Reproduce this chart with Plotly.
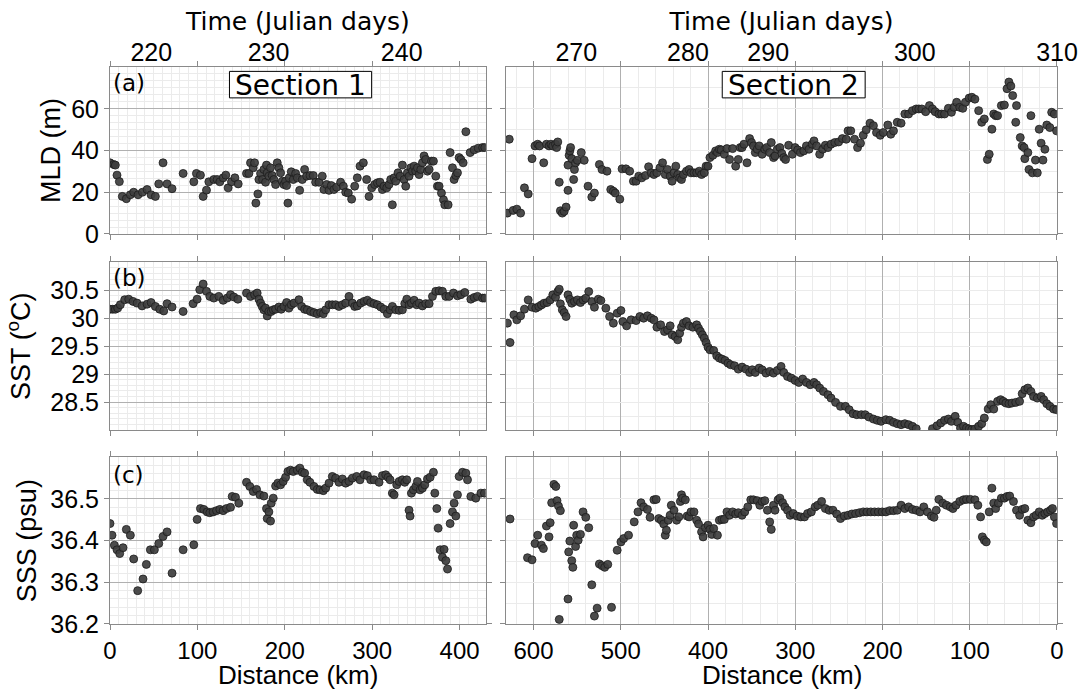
import plotly.graph_objects as go

# ---------------- Section 1 (left column), distance in km ----------------
s1_mld_dist = [0, 4.2, 6.1, 8.0, 10.7, 14.1, 18.7, 23.3, 27.1, 32.1,
               37.1, 42.4, 47.0, 51.9, 55.8, 60.7, 65.3, 71.0, 83.7, 95.9,
               98.9, 103.5, 106.6, 110.4, 113.1, 118.8, 122.6, 125.7, 129.5, 132.5,
               135.2, 139.0, 142.9, 146.7, 156.2, 158.9, 160.8, 163.9, 165.4, 166.9,
               169.2, 170.4, 172.3, 174.6, 176.1, 178.0, 179.1, 179.9, 181.8, 183.7,
               185.6, 187.5, 189.5, 191.4, 193.3, 195.2, 197.1, 199.0, 200.9, 202.1,
               203.6, 205.1, 207.4, 209.7, 212.4, 214.3, 217.0, 220.0, 222.7, 225.0,
               228.8, 232.6, 235.3, 239.1, 242.9, 244.8, 247.9, 250.6, 253.2, 256.3,
               259.4, 263.9, 267.0, 269.7, 272.7, 276.5, 280.0, 283.0, 286.1, 289.9,
               293.7, 296.4, 299.5, 302.9, 306.0, 309.0, 311.7, 313.6, 316.7, 319.3,
               321.2, 323.1, 325.1, 327.0, 329.6, 331.9, 334.6, 336.5, 338.4, 340.3,
               342.2, 344.2, 346.1, 348.0, 349.9, 351.8, 353.7, 355.6, 357.5, 359.4,
               361.3, 363.3, 365.2, 367.8, 370.1, 372.8, 374.7, 376.6, 379.3, 381.6,
               383.1, 386.9, 389.2, 391.9, 393.8, 395.7, 397.6, 399.5, 401.5, 404.1,
               407.2, 412.1, 416.7, 421.3, 426.3, 428.9]
s1_mld = [34.1, 33.3, 33.0, 28.2, 25.1, 18.0, 16.9, 18.8, 20.0, 18.8,
          20.0, 21.3, 18.8, 18.0, 24.0, 34.1, 24.0, 21.7, 29.0, 25.0,
          29.0, 28.2, 18.0, 21.0, 25.0, 26.1, 26.1, 25.0, 26.9, 28.2,
          22.1, 25.0, 26.9, 24.0, 29.0, 29.0, 34.1, 31.7, 34.1, 14.8,
          19.2, 26.1, 29.0, 26.1, 30.9, 24.8, 33.0, 29.3, 27.7, 31.7,
          28.0, 26.1, 23.7, 34.1, 31.7, 29.3, 25.3, 23.7, 25.3, 23.2,
          14.8, 26.9, 29.8, 26.1, 29.0, 26.9, 20.9, 26.1, 30.9, 27.7,
          28.0, 28.0, 24.8, 24.8, 27.7, 21.3, 23.7, 20.9, 23.2, 21.3,
          22.4, 24.8, 22.9, 20.0, 19.6, 16.7, 22.9, 26.9, 32.5, 34.1,
          26.1, 18.0, 22.1, 23.7, 24.5, 24.8, 21.3, 22.9, 22.1, 23.7,
          26.1, 14.0, 26.9, 25.3, 29.3, 27.7, 33.0, 26.1, 22.9, 29.3,
          27.7, 31.7, 30.1, 32.5, 30.1, 31.7, 28.5, 30.9, 34.1, 37.4,
          35.7, 30.1, 30.9, 34.9, 34.9, 27.7, 22.9, 22.9, 19.6, 16.4,
          14.0, 14.0, 39.0, 31.7, 26.1, 28.0, 29.3, 36.6, 35.7, 34.1,
          49.0, 39.0, 40.3, 41.1, 41.4, 41.4]

s1_sst_dist = [0, 3.1, 6.1, 8.8, 11.8, 16.8, 21.4, 26.4, 30.9, 36.7,
               42.4, 47.0, 51.9, 56.9, 61.5, 65.3, 71.0, 83.7, 95.1, 99.7,
               102.7, 106.6, 110.4, 114.2, 118.8, 124.5, 129.5, 134.1, 137.9, 141.7,
               146.3, 156.2, 160.8, 165.4, 168.4, 170.4, 172.3, 174.2, 176.1, 178.0,
               179.9, 181.8, 184.5, 186.8, 189.5, 193.3, 195.9, 199.0, 202.1, 204.7,
               207.4, 210.5, 216.2, 219.3, 222.7, 225.7, 229.6, 233.4, 237.2, 241.0,
               244.1, 246.8, 250.6, 254.4, 258.2, 262.0, 265.9, 269.7, 273.5, 277.3,
               280.0, 283.0, 286.9, 290.7, 294.5, 298.3, 302.1, 306.0, 309.8, 313.6,
               317.4, 320.5, 323.1, 327.0, 330.8, 334.6, 337.3, 339.6, 342.2, 344.9,
               348.0, 351.0, 353.7, 357.5, 361.3, 365.2, 369.0, 372.8, 376.6, 380.4,
               384.3, 388.1, 393.0, 397.6, 401.5, 406.0, 412.9, 416.7, 420.5, 426.3,
               428.9]
s1_sst = [30.16, 30.16, 30.16, 30.18, 30.24, 30.33, 30.34, 30.30, 30.27, 30.22,
          30.25, 30.28, 30.21, 30.16, 30.13, 30.26, 30.20, 30.12, 30.26, 30.34,
          30.51, 30.61, 30.48, 30.39, 30.36, 30.39, 30.32, 30.36, 30.42, 30.38,
          30.34, 30.45, 30.39, 30.42, 30.45, 30.34, 30.27, 30.21, 30.15, 30.18,
          30.04, 30.12, 30.12, 30.15, 30.16, 30.20, 30.16, 30.21, 30.28, 30.18,
          30.24, 30.27, 30.33, 30.21, 30.16, 30.15, 30.12, 30.10, 30.08, 30.10,
          30.08, 30.15, 30.24, 30.24, 30.24, 30.21, 30.24, 30.27, 30.39, 30.27,
          30.21, 30.22, 30.27, 30.30, 30.32, 30.28, 30.26, 30.24, 30.20, 30.16,
          30.08, 30.15, 30.21, 30.15, 30.14, 30.15, 30.26, 30.34, 30.24, 30.27,
          30.32, 30.24, 30.27, 30.22, 30.26, 30.26, 30.39, 30.48, 30.49, 30.48,
          30.39, 30.39, 30.45, 30.40, 30.42, 30.46, 30.34, 30.37, 30.39, 30.36,
          30.36]

s1_sss_dist = [0, 2.3, 5.0, 8.0, 11.1, 14.9, 18.7, 23.3, 27.1, 31.7,
               37.8, 41.6, 46.2, 50.8, 55.8, 60.7, 65.3, 71.0, 83.7, 95.9,
               99.7, 103.5, 107.3, 111.2, 114.2, 118.0, 121.9, 125.7, 129.5, 133.3,
               137.9, 139.8, 143.6, 147.4, 156.2, 160.0, 163.9, 167.7, 171.5, 176.1,
               179.1, 179.9, 181.8, 183.7, 184.5, 186.8, 189.5, 192.1, 195.2, 198.2,
               200.9, 203.6, 206.6, 209.7, 214.3, 217.3, 220.0, 222.7, 225.7, 228.8,
               233.4, 237.2, 240.3, 244.1, 246.8, 250.6, 254.4, 258.2, 262.0, 265.9,
               269.7, 273.5, 277.3, 282.3, 286.1, 290.7, 294.5, 298.3, 302.1, 307.9,
               311.7, 315.5, 318.2, 320.5, 323.1, 325.1, 328.1, 330.8, 334.6, 337.3,
               339.6, 342.2, 343.4, 344.9, 347.2, 349.9, 351.8, 354.8, 357.5, 360.2,
               363.3, 366.3, 370.1, 371.7, 374.0, 375.5, 377.8, 380.4, 382.3, 384.3,
               386.2, 389.2, 391.9, 393.8, 395.7, 397.6, 399.5, 403.4, 407.2, 409.1,
               412.9, 418.6, 424.4, 428.5]
s1_sss = [36.441, 36.413, 36.389, 36.378, 36.369, 36.383, 36.427, 36.413, 36.356, 36.280,
          36.308, 36.343, 36.378, 36.378, 36.393, 36.410, 36.421, 36.322, 36.378, 36.390,
          36.451, 36.477, 36.475, 36.469, 36.467, 36.469, 36.472, 36.475, 36.472, 36.477,
          36.480, 36.506, 36.504, 36.490, 36.540, 36.530, 36.518, 36.523, 36.510, 36.507,
          36.477, 36.453, 36.469, 36.447, 36.490, 36.502, 36.531, 36.538, 36.534, 36.542,
          36.552, 36.566, 36.569, 36.566, 36.569, 36.574, 36.564, 36.562, 36.546, 36.540,
          36.530, 36.523, 36.522, 36.520, 36.526, 36.538, 36.554, 36.550, 36.540, 36.548,
          36.538, 36.542, 36.550, 36.554, 36.546, 36.558, 36.556, 36.546, 36.546, 36.540,
          36.556, 36.558, 36.552, 36.546, 36.514, 36.510, 36.534, 36.542, 36.546, 36.540,
          36.546, 36.473, 36.459, 36.514, 36.522, 36.530, 36.542, 36.522, 36.526, 36.534,
          36.548, 36.552, 36.564, 36.514, 36.477, 36.430, 36.378, 36.360, 36.379, 36.352,
          36.332, 36.441, 36.469, 36.490, 36.459, 36.510, 36.554, 36.564, 36.562, 36.546,
          36.506, 36.502, 36.514, 36.514]

# ---------------- Section 2 (right column), distance in km ----------------
s2_mld_dist = [627.8, 629.9, 623.4, 619.1, 614.8, 610.4, 606.1, 601.7, 598.3, 595.2,
               593.1, 588.3, 585.2, 582.2, 580.0, 577.9, 574.8, 573.5, 572.2, 570.5,
               569.2, 567.0, 564.9, 562.7, 560.5, 560.5, 559.2, 558.4, 557.5, 556.2,
               554.0, 553.1, 551.8, 549.7, 545.3, 541.9, 537.5, 533.2, 530.2, 524.5,
               521.5, 515.8, 511.5, 508.5, 506.3, 501.1, 498.5, 494.1, 489.8, 485.5,
               482.4, 479.4, 475.9, 471.6, 468.1, 465.1, 462.0, 458.6, 455.1, 452.1,
               449.0, 446.4, 443.4, 441.2, 439.0, 436.9, 434.7, 432.5, 430.4, 428.2,
               424.7, 421.7, 419.5, 416.1, 413.0, 410.0, 407.4, 404.3, 402.2, 400.0,
               397.8, 394.4, 391.3, 389.2, 387.0, 384.8, 381.3, 378.3, 375.3, 371.8,
               368.3, 365.3, 363.1, 361.0, 358.8, 355.3, 352.3, 350.1, 347.9, 345.8,
               343.6, 341.4, 338.0, 334.9, 332.8, 329.3, 327.5, 324.9, 323.2, 320.6,
               317.6, 315.4, 313.2, 311.1, 307.6, 303.3, 300.2, 297.2, 294.1, 290.2,
               287.2, 284.2, 280.7, 278.5, 275.5, 272.0, 268.5, 265.5, 262.5, 259.0,
               254.7, 250.3, 246.0, 241.6, 239.5, 236.4, 232.1, 228.6, 225.2, 222.1,
               218.7, 214.3, 210.4, 206.9, 202.6, 199.1, 193.9, 190.5, 187.4, 183.1,
               178.7, 174.4, 170.1, 165.7, 161.4, 158.4, 154.9, 150.5, 146.2, 142.7,
               139.7, 135.4, 132.3, 128.9, 124.5, 121.0, 118.0, 115.0, 111.5, 108.0,
               105.0, 100.7, 97.6, 94.1, 89.8, 86.3, 83.3, 79.8, 77.7, 74.6,
               72.5, 70.3, 68.1, 63.8, 60.3, 57.3, 55.1, 52.9, 50.8, 47.3,
               46.4, 42.1, 39.9, 37.7, 36.9, 33.4, 32.1, 29.9, 28.2, 24.7,
               22.6, 20.4, 18.2, 16.1, 13.9, 11.7, 8.2, 6.1, 3.0, 0.5]
s2_mld = [45.4, 10.0, 11.3, 11.9, 10.0, 22.1, 19.2, 36.1, 42.2, 43.0,
          42.2, 34.1, 43.0, 42.2, 43.0, 42.2, 43.0, 41.4, 44.1, 24.8,
          11.1, 10.0, 10.8, 12.9, 20.9, 33.0, 37.7, 39.8, 41.4, 36.1,
          26.1, 30.9, 34.1, 35.3, 39.0, 35.3, 22.9, 17.7, 19.6, 33.3,
          30.9, 30.1, 21.3, 20.5, 19.6, 16.7, 31.2, 31.2, 30.1, 25.3,
          25.3, 27.7, 26.9, 28.0, 32.2, 29.3, 28.5, 29.3, 31.7, 34.1,
          28.5, 30.9, 27.7, 25.3, 29.3, 32.5, 28.5, 26.9, 26.1, 28.5,
          30.1, 30.9, 29.3, 29.3, 29.3, 30.1, 28.5, 29.3, 32.5, 32.5,
          36.6, 37.7, 39.8, 39.0, 40.6, 40.3, 38.2, 40.9, 35.7, 40.9,
          32.5, 35.7, 41.4, 41.4, 43.0, 34.1, 45.7, 43.8, 42.2, 39.0,
          40.6, 42.2, 38.2, 40.6, 41.4, 39.0, 43.8, 36.6, 37.4, 40.6,
          41.4, 38.6, 36.6, 35.7, 42.5, 38.2, 41.4, 40.3, 39.0, 39.8,
          42.2, 40.6, 43.0, 44.6, 42.2, 38.2, 40.6, 42.5, 41.4, 43.0,
          43.8, 44.1, 45.7, 45.4, 49.4, 49.4, 45.4, 41.4, 43.5, 47.3,
          49.9, 53.1, 51.9, 48.6, 47.3, 48.6, 52.2, 47.8, 49.4, 53.5,
          53.1, 57.5, 57.5, 59.1, 59.9, 59.9, 59.9, 58.6, 61.5, 59.9,
          58.6, 57.5, 57.5, 57.5, 60.2, 58.3, 60.7, 63.1, 60.7, 60.2,
          63.1, 65.1, 65.5, 64.6, 59.1, 53.5, 55.1, 35.7, 38.2, 50.2,
          57.5, 56.7, 56.7, 61.5, 61.8, 69.6, 72.8, 70.9, 66.3, 53.5,
          61.5, 46.2, 42.2, 41.4, 36.1, 39.0, 30.9, 56.7, 29.3, 35.4,
          29.3, 50.2, 43.5, 35.4, 40.6, 52.2, 51.0, 58.3, 57.5, 49.4]

s2_sst_dist = [629.9, 626.9, 622.5, 619.1, 614.8, 610.4, 606.1, 601.7, 597.4, 593.9,
               590.9, 587.9, 584.4, 580.9, 577.9, 574.8, 572.2, 570.5, 569.2, 567.0,
               564.9, 562.7, 560.5, 558.4, 556.2, 553.1, 549.7, 546.2, 543.2, 540.1,
               536.7, 533.2, 530.2, 525.8, 522.8, 517.1, 512.8, 508.5, 504.1, 499.8,
               497.6, 493.3, 488.1, 482.4, 478.1, 473.8, 469.4, 465.1, 462.0, 458.6,
               454.3, 449.9, 446.4, 443.4, 441.2, 437.7, 434.7, 432.5, 430.4, 428.2,
               424.7, 421.7, 417.4, 413.0, 410.9, 408.7, 406.5, 404.3, 402.2, 400.0,
               397.8, 393.5, 390.0, 387.0, 384.0, 380.5, 377.0, 374.0, 369.6, 365.3,
               361.0, 356.6, 352.3, 349.3, 345.8, 341.4, 338.0, 333.6, 329.3, 325.0,
               320.6, 316.3, 313.2, 308.9, 304.6, 300.2, 295.9, 291.5, 287.2, 282.9,
               278.5, 275.5, 272.0, 267.7, 262.5, 259.0, 253.8, 248.2, 242.5, 238.2,
               233.8, 229.5, 224.3, 219.9, 215.6, 210.4, 206.1, 201.7, 196.1, 191.8,
               187.4, 183.1, 178.7, 174.4, 170.1, 165.7, 161.4, 142.7, 137.5, 133.2,
               128.9, 124.5, 121.0, 116.7, 113.7, 110.6, 107.2, 103.7, 100.7, 97.6,
               94.1, 89.8, 86.3, 83.3, 78.9, 75.9, 72.5, 68.1, 64.6, 61.6,
               58.6, 55.1, 51.6, 47.3, 42.9, 39.9, 36.9, 33.4, 29.9, 26.9,
               22.6, 18.2, 15.2, 11.7, 8.2, 3.9, 0.5]
s2_sst = [29.911, 29.565, 30.060, 29.970, 30.042, 30.161, 30.327, 30.196, 30.179, 30.208,
          30.238, 30.268, 30.280, 30.327, 30.417, 30.375, 30.476, 30.518, 30.256, 30.149,
          30.101, 30.030, 30.417, 30.339, 30.268, 30.298, 30.327, 30.280, 30.327, 30.357,
          30.476, 30.298, 30.196, 30.339, 30.315, 30.179, 30.030, 29.911, 30.089, 30.137,
          29.940, 29.863, 29.970, 29.958, 30.030, 30.000, 30.042, 30.000, 29.970, 29.839,
          29.881, 29.762, 29.792, 29.863, 29.702, 29.673, 29.613, 29.732, 29.839, 29.911,
          29.940, 29.863, 29.839, 29.881, 29.821, 29.762, 29.702, 29.643, 29.565, 29.482,
          29.435, 29.423, 29.327, 29.286, 29.268, 29.244, 29.196, 29.167, 29.149, 29.089,
          29.125, 29.089, 29.030, 29.077, 29.030, 29.107, 29.077, 29.018, 29.048, 29.018,
          29.065, 29.137, 29.030, 28.958, 28.929, 28.887, 28.851, 28.911, 28.851, 28.810,
          28.851, 28.810, 28.750, 28.690, 28.631, 28.571, 28.494, 28.423, 28.423, 28.363,
          28.292, 28.274, 28.274, 28.274, 28.232, 28.196, 28.173, 28.155, 28.185, 28.173,
          28.137, 28.113, 28.095, 28.113, 28.095, 28.065, 28.024, 28.024, 28.077, 28.125,
          28.173, 28.196, 28.155, 28.244, 28.137, 28.036, 28.065, 28.036, 28.018, 28.006,
          28.018, 28.065, 28.113, 28.214, 28.375, 28.452, 28.375, 28.512, 28.542, 28.512,
          28.482, 28.470, 28.482, 28.494, 28.512, 28.649, 28.720, 28.750, 28.690, 28.601,
          28.571, 28.601, 28.542, 28.470, 28.423, 28.375, 28.363]

s2_sss_dist = [626.9, 606.9, 601.7, 598.3, 595.2, 590.9, 588.7, 585.2, 582.2, 580.9,
               579.2, 576.6, 574.4, 573.1, 571.4, 570.5, 569.2, 560.5, 559.7, 558.4,
               556.2, 554.9, 554.0, 551.8, 550.5, 548.8, 546.2, 543.2, 540.1, 536.7,
               533.2, 530.2, 527.1, 524.5, 521.5, 518.4, 514.9, 510.6, 504.1, 499.8,
               496.7, 491.1, 484.6, 480.3, 476.8, 473.8, 469.4, 466.4, 462.0, 459.4,
               456.4, 453.4, 450.8, 449.0, 447.7, 445.6, 443.4, 442.1, 439.0, 436.0,
               433.4, 431.7, 430.4, 429.1, 426.0, 423.9, 421.7, 419.5, 416.1, 413.0,
               410.9, 407.4, 405.6, 403.0, 400.0, 397.8, 395.7, 393.5, 389.2, 387.0,
               384.0, 381.3, 378.3, 375.3, 371.8, 368.3, 365.3, 361.0, 357.9, 354.4,
               351.0, 347.9, 343.6, 340.6, 338.0, 334.9, 331.9, 329.3, 327.5, 324.9,
               323.2, 319.7, 317.6, 314.5, 311.9, 308.9, 305.9, 302.4, 298.0, 293.7,
               289.4, 285.9, 281.6, 277.2, 274.2, 269.8, 265.5, 261.2, 256.8, 252.5,
               248.2, 243.8, 239.5, 235.1, 230.8, 226.5, 222.1, 217.8, 213.4, 209.1,
               204.8, 200.4, 196.1, 191.8, 187.4, 183.1, 178.7, 174.4, 170.1, 165.7,
               161.4, 157.0, 152.7, 148.4, 144.0, 141.0, 138.4, 135.4, 131.0, 126.7,
               122.3, 119.3, 115.8, 111.5, 107.2, 103.7, 99.3, 94.1, 90.7, 87.6,
               85.5, 83.3, 81.1, 77.7, 74.6, 72.5, 70.3, 67.2, 63.8, 60.3,
               57.3, 54.2, 49.9, 46.4, 42.9, 39.9, 36.9, 33.4, 29.9, 26.9,
               23.9, 20.4, 16.9, 13.9, 10.8, 7.4, 5.2, 3.0, 0.5]
s2_sss = [36.452, 36.359, 36.354, 36.393, 36.413, 36.389, 36.381, 36.435, 36.409, 36.443,
          36.491, 36.535, 36.530, 36.496, 36.483, 36.211, 36.472, 36.260, 36.373, 36.399,
          36.352, 36.336, 36.437, 36.386, 36.413, 36.401, 36.415, 36.469, 36.456, 36.431,
          36.294, 36.219, 36.238, 36.344, 36.340, 36.336, 36.343, 36.240, 36.377, 36.397,
          36.405, 36.413, 36.445, 36.469, 36.491, 36.481, 36.475, 36.456, 36.498, 36.499,
          36.453, 36.449, 36.440, 36.413, 36.425, 36.449, 36.461, 36.485, 36.473, 36.449,
          36.457, 36.494, 36.510, 36.502, 36.498, 36.459, 36.457, 36.469, 36.469, 36.449,
          36.440, 36.421, 36.409, 36.431, 36.437, 36.427, 36.415, 36.429, 36.413, 36.449,
          36.451, 36.451, 36.469, 36.461, 36.469, 36.464, 36.467, 36.461, 36.469, 36.481,
          36.498, 36.498, 36.496, 36.485, 36.494, 36.496, 36.473, 36.445, 36.427, 36.485,
          36.473, 36.498, 36.502, 36.491, 36.481, 36.473, 36.461, 36.465, 36.459, 36.457,
          36.457, 36.465, 36.469, 36.481, 36.485, 36.494, 36.477, 36.473, 36.473, 36.464,
          36.453, 36.459, 36.461, 36.464, 36.465, 36.467, 36.469, 36.469, 36.469, 36.469,
          36.469, 36.469, 36.469, 36.472, 36.472, 36.473, 36.485, 36.477, 36.481, 36.475,
          36.473, 36.469, 36.481, 36.469, 36.459, 36.456, 36.473, 36.499, 36.490, 36.485,
          36.481, 36.477, 36.485, 36.494, 36.498, 36.499, 36.499, 36.498, 36.485, 36.457,
          36.409, 36.401, 36.397, 36.469, 36.526, 36.490, 36.477, 36.490, 36.502, 36.502,
          36.506, 36.507, 36.494, 36.473, 36.461, 36.475, 36.477, 36.449, 36.443, 36.457,
          36.461, 36.469, 36.461, 36.465, 36.469, 36.473, 36.477, 36.457, 36.441]

# Time (Julian day) labels on the top axes and the distance where each sits
s1_time_labels = ["220", "230", "240"]
s1_time_dist = [47.3, 181.4, 333.8]
s2_time_labels = ["270", "280", "290", "300", "310"]
s2_time_dist = [551, 423, 331, 163, 0]

dist_ticks_s1 = [0, 100, 200, 300, 400]
dist_ticks_s2 = [600, 500, 400, 300, 200, 100, 0]
mld_ticks = [0, 20, 40, 60]
sst_ticks = [28.5, 29, 29.5, 30, 30.5]
sst_tick_text = ["28.5", "29", "29.5", "30", "30.5"]
sss_ticks = [36.2, 36.3, 36.4, 36.5]

# ---------------- figure ----------------
TICK_FONT = dict(family="Liberation Sans", size=25, color="black")
BOTTOM_TICK_FONT = dict(family="Liberation Sans", size=24, color="black")
TITLE_FONT = dict(family="Liberation Sans", size=27, color="black")
LINE_C = "#8a8a8a"
MAJOR_DARK = "#b0b0b0"
MINOR_C = "#ebebeb"

marker = dict(size=8, color="rgba(62,62,62,0.93)", line=dict(color="#1c1c1c", width=0.8))

fig = go.Figure()
panels = [
    (s1_mld_dist, s1_mld, "x", "y"),
    (s2_mld_dist, s2_mld, "x2", "y2"),
    (s1_sst_dist, s1_sst, "x3", "y3"),
    (s2_sst_dist, s2_sst, "x4", "y4"),
    (s1_sss_dist, s1_sss, "x5", "y5"),
    (s2_sss_dist, s2_sss, "x6", "y6"),
]
for xs, ys, xa, ya in panels:
    fig.add_trace(go.Scatter(x=xs, y=ys, mode="markers", marker=marker,
                             xaxis=xa, yaxis=ya, showlegend=False, hoverinfo="skip"))
# invisible traces to attach the top time axes
fig.add_trace(go.Scatter(x=[s1_time_dist[0]], y=[mld_ticks[0]], xaxis="x7", yaxis="y",
                         mode="markers", marker=dict(opacity=0), showlegend=False,
                         hoverinfo="skip"))
fig.add_trace(go.Scatter(x=[s2_time_dist[0]], y=[mld_ticks[0]], xaxis="x8", yaxis="y2",
                         mode="markers", marker=dict(opacity=0), showlegend=False,
                         hoverinfo="skip"))

LEFT_DOM = [0.0, 0.3968]
RIGHT_DOM = [0.4182, 1.0]
ROW1 = [0.7002, 1.0]
ROW2 = [0.3483, 0.6494]
ROW3 = [0.0, 0.2993]


def xax(dom, anchor, rng, tickvals, left, labels, minor_dtick):
    return dict(domain=dom, anchor=anchor, range=rng, autorange=False, automargin=False,
                tickvals=tickvals, showticklabels=labels,
                showline=True, linecolor=LINE_C, linewidth=1, mirror="ticks",
                ticks="outside", ticklen=5, tickcolor=LINE_C, zeroline=False,
                showgrid=True, gridcolor=(MINOR_C if left else MAJOR_DARK), gridwidth=1,
                minor=dict(dtick=minor_dtick, tick0=0, showgrid=True, gridcolor=MINOR_C,
                           gridwidth=1, ticks=""),
                tickfont=BOTTOM_TICK_FONT)


def yax(dom, anchor, rng, tickvals, ticktext, left, title, minor_dtick, standoff):
    d = dict(domain=dom, anchor=anchor, range=rng, autorange=False, automargin=False,
             tickvals=tickvals, ticktext=ticktext, showticklabels=left,
             showline=True, linecolor=LINE_C, linewidth=1, mirror="ticks",
             ticks="outside", ticklen=5, tickcolor=LINE_C, zeroline=False,
             showgrid=True, gridcolor=(MAJOR_DARK if left else MINOR_C), gridwidth=1,
             minor=dict(dtick=minor_dtick, tick0=rng[0], showgrid=True, gridcolor=MINOR_C,
                        gridwidth=1, ticks=""),
             tickfont=TICK_FONT)
    if left:
        d["title"] = dict(text=title, font=TITLE_FONT, standoff=standoff)
    return d


S1_RANGE = [0, 430]
S2_RANGE = [631.5, 0]

top_common = dict(side="top", ticks="", showgrid=False, showline=False, zeroline=False,
                  automargin=False, tickfont=TICK_FONT,
                  title=dict(text="Time (Julian days)",
                             font=dict(family="DejaVu Sans", size=25, color="black"),
                             standoff=0))

fig.update_layout(
    width=1084, height=698,
    margin=dict(l=110, r=27, t=67, b=74),
    paper_bgcolor="white", plot_bgcolor="white",
    font=dict(family="Liberation Sans", color="black"),
    xaxis=xax(LEFT_DOM, "y", S1_RANGE, dist_ticks_s1, True, False, 10),
    xaxis2=xax(RIGHT_DOM, "y2", S2_RANGE, dist_ticks_s2, False, False, 20),
    xaxis3=xax(LEFT_DOM, "y3", S1_RANGE, dist_ticks_s1, True, False, 10),
    xaxis4=xax(RIGHT_DOM, "y4", S2_RANGE, dist_ticks_s2, False, False, 20),
    xaxis5=xax(LEFT_DOM, "y5", S1_RANGE, dist_ticks_s1, True, True, 10),
    xaxis6=xax(RIGHT_DOM, "y6", S2_RANGE, dist_ticks_s2, False, True, 20),
    xaxis7=dict(overlaying="x", anchor="y", range=S1_RANGE, autorange=False,
                tickvals=s1_time_dist, ticktext=s1_time_labels, **top_common),
    xaxis8=dict(overlaying="x2", anchor="y2", range=S2_RANGE, autorange=False,
                tickvals=s2_time_dist, ticktext=s2_time_labels, **top_common),
    yaxis=yax(ROW1, "x", [0, 80], mld_ticks, None, True, "MLD (m)", 10 / 3, 2),
    yaxis2=yax(ROW1, "x2", [0, 80], mld_ticks, None, False, "", 10, 0),
    yaxis3=yax(ROW2, "x3", [28, 31], sst_ticks, sst_tick_text, True,
               "SST (<sup>o</sup>C)", 0.1, 11),
    yaxis4=yax(ROW2, "x4", [28, 31], sst_ticks, sst_tick_text, False, "", 0.25, 0),
    yaxis5=yax(ROW3, "x5", [36.2, 36.6], sss_ticks, None, True, "SSS (psu)", 0.02, 5),
    yaxis6=yax(ROW3, "x6", [36.2, 36.6], sss_ticks, None, False, "", 0.05, 0),
)

# Bottom axis titles (placed to match the reference spacing)
for xa in ["x5", "x6"]:
    fig.add_annotation(xref=f"{xa} domain", yref="paper", x=0.5, y=-0.092,
                       text="Distance (km)", showarrow=False,
                       font=dict(family="Liberation Sans", size=26, color="black"),
                       xanchor="center", yanchor="middle")

# Section boxes
for xa, ya, x0, x1, cx, txt in [("x", "y", 136.7, 299.4, 218, "Section 1"),
                                ("x2", "y2", 383.7, 219.9, 301.8, "Section 2")]:
    fig.add_shape(type="rect", xref=xa, yref=ya, x0=x0, x1=x1, y0=65.2, y1=77.9,
                  line=dict(color="black", width=1), fillcolor="white", layer="above")
    fig.add_annotation(xref=xa, yref=ya, x=cx, y=71.3, text=txt, showarrow=False,
                       font=dict(family="DejaVu Sans", size=28, color="black"),
                       xanchor="center", yanchor="middle")

# Panel letters
for xa, ya, yv, txt in [("x", "y", 72.5, "(a)"), ("x3", "y3", 30.72, "(b)"),
                        ("x5", "y5", 36.558, "(c)")]:
    fig.add_annotation(xref=xa, yref=ya, x=1.5, y=yv, text=txt, showarrow=False,
                       font=dict(family="DejaVu Sans", size=23, color="black"),
                       xanchor="left", yanchor="middle")

fig.write_html("out.html", config={"displayModeBar": False},
               post_script="document.body.style.margin='0';document.body.style.padding='0';")
